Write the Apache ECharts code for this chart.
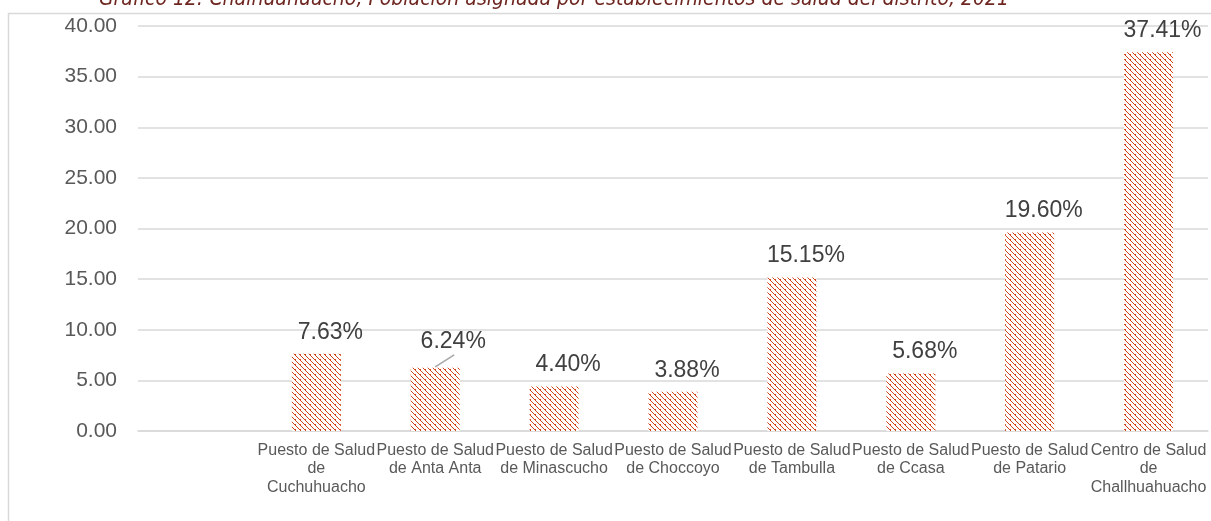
<!DOCTYPE html>
<html><head><meta charset="utf-8">
<script src="https://cdn.jsdelivr.net/npm/echarts@6/dist/echarts.min.js"></script>
<style>html,body{margin:0;padding:0;background:#fff}#c{width:1211px;height:521px}</style>
</head><body><div id="c"></div>
<script>
const titleText = 'Gráfico 12: Chalhuahuacho, Población asignada por establecimientos de salud del distrito, 2021';
const categories = ['', 'Puesto de Salud\nde\nCuchuhuacho', 'Puesto de Salud\nde Anta Anta', 'Puesto de Salud\nde Minascucho', 'Puesto de Salud\nde Choccoyo', 'Puesto de Salud\nde Tambulla', 'Puesto de Salud\nde Ccasa', 'Puesto de Salud\nde Patario', 'Centro de Salud\nde\nChallhuahuacho'];
const values = [null, 7.63, 6.24, 4.40, 3.88, 15.15, 5.68, 19.60, 37.41];
const yMin = 0, yMax = 40, yStep = 5;
const movedLabelIndex = 2;

function hatch(color){
  const n = 5, cv = document.createElement('canvas');
  cv.width = n; cv.height = n;
  const ctx = cv.getContext('2d');
  const img = ctx.createImageData(n, n);
  const r = parseInt(color.slice(1,3),16), g = parseInt(color.slice(3,5),16), b = parseInt(color.slice(5,7),16);
  for (let y=0;y<n;y++) for (let x=0;x<n;x++){
    const d = ((x - y) % n + n) % n;
    const i = (y*n + x)*4;
    if (d === 0 || (d === 1 && (x+y)%2===0)) { img.data[i]=r; img.data[i+1]=g; img.data[i+2]=b; img.data[i+3]=255; }
    else { img.data[i]=255; img.data[i+1]=255; img.data[i+2]=255; img.data[i+3]=255; }
  }
  ctx.putImageData(img,0,0);
  return cv;
}

const chart = echarts.init(document.getElementById('c'), null, {renderer:'canvas'});
const labelFont = '"Liberation Sans", Arial, sans-serif';
const frameAndTitle = [
  {type:'rect', shape:{x:8.5, y:13.5, width:1220, height:530}, style:{fill:'none', stroke:'#d9d9d9', lineWidth:1.5}, silent:true, z:-1},
  {type:'text', x:554, y:-11, style:{text:titleText, fill:'#6e2620', font:'italic 21px "Liberation Sans Narrow", "DejaVu Sans Condensed", sans-serif', align:'center', verticalAlign:'top'}}
];
chart.setOption({
  animation: false,
  backgroundColor: '#fff',
  graphic: frameAndTitle,
  grid: {left:138, right:3, top:26, bottom:90, containLabel:false},
  xAxis: {
    type:'category', data: categories,
    axisLine:{lineStyle:{color:'#d9d9d9', width:1.5}},
    axisTick:{show:false},
    axisLabel:{interval:0, color:'#595959', fontFamily:labelFont, fontSize:16, lineHeight:18.5, margin:10}
  },
  yAxis: {
    type:'value', min:yMin, max:yMax, interval:yStep,
    axisLine:{show:false}, axisTick:{show:false},
    splitLine:{lineStyle:{color:'#d9d9d9', width:1.5}},
    axisLabel:{color:'#595959', fontFamily:labelFont, fontSize:21, margin:21, formatter:v=>v.toFixed(2)}
  },
  series: [{
    type:'bar', data: values, barWidth:49,
    itemStyle:{color:{image:hatch('#d4441a'), repeat:'repeat'}},
    label:{show:true, position:'top', distance:10, color:'#404040', fontFamily:labelFont, fontSize:23, formatter:p=>p.value.toFixed(2)+'%'},
    labelLine:{show:false},
    labelLayout: p => p.dataIndex === movedLabelIndex ? {dx:18, dy:-5} : {dx:14}
  }]
});
// leader line for the moved label, anchored at the bar top via the chart's scales
const barTop = chart.convertToPixel({seriesIndex:0}, [movedLabelIndex, values[movedLabelIndex]]);
chart.setOption({graphic: frameAndTitle.concat([
  {type:'line', shape:{x1:barTop[0], y1:barTop[1]-1, x2:barTop[0]+19, y2:barTop[1]-13}, style:{stroke:'#a6a6a6', lineWidth:1.5}, z:10}
])});
</script></body></html>
